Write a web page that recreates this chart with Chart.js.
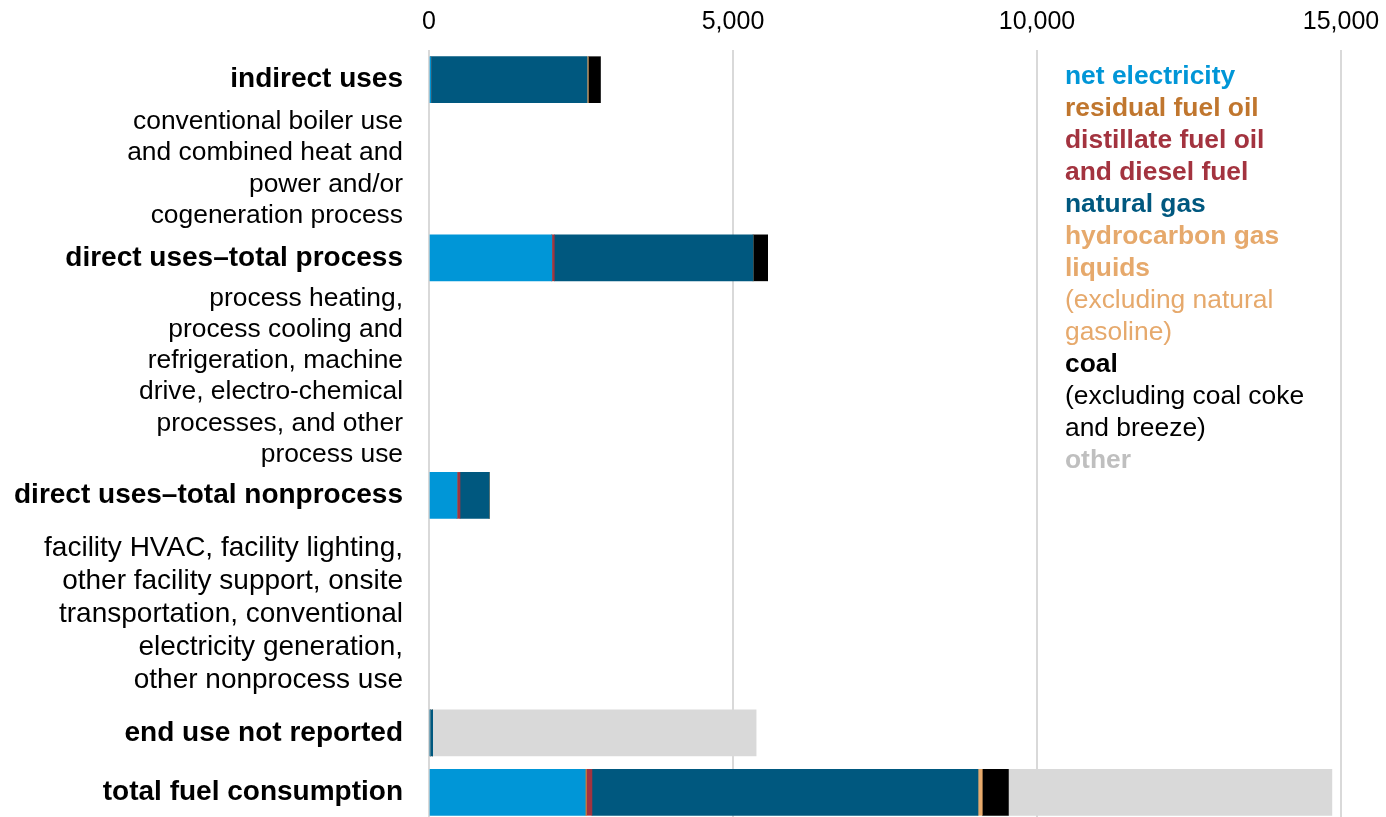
<!DOCTYPE html>
<html>
<head>
<meta charset="utf-8">
<title>Manufacturing fuel consumption by end use</title>
<script src="https://cdn.jsdelivr.net/npm/chart.js@4"></script>
<style>
  html, body { margin: 0; padding: 0; background: #fff; overflow: hidden; }
  #wrap { width: 1386px; height: 822px; }
</style>
</head>
<body>
<div id="wrap"><canvas id="fuelChart"></canvas></div>
<script>
// end-use groups, top to bottom
const groups = [
    'indirect uses',
    'direct uses–total process',
    'direct uses–total nonprocess',
    'end use not reported',
    'total fuel consumption'
];

// smaller text listed under each group
const groupNotes = [
    ['conventional boiler use', 'and combined heat and', 'power and/or', 'cogeneration process'],
    ['process heating,', 'process cooling and', 'refrigeration, machine', 'drive, electro-chemical', 'processes, and other', 'process use'],
    ['facility HVAC, facility lighting,', 'other facility support, onsite', 'transportation, conventional', 'electricity generation,', 'other nonprocess use'],
    [],
    []
];

// trillion Btu, one value per group
const netElectricity = [30, 2020, 460, 20, 2570];
const residualFuelOil = [0, 0, 0, 0, 20];
const distillateFuelOil = [0, 40, 50, 0, 90];
const naturalGas = [2570, 3270, 480, 40, 6350];
const hydrocarbonGasLiquids = [20, 0, 0, 0, 70];
const coal = [200, 240, 0, 0, 430];
const otherFuel = [0, 0, 0, 5320, 5320];

const xTicks = [0, 5000, 10000, 15000];

const FONT = 'Liberation Sans, Arial, sans-serif';
// note text is a bit smaller for the first two groups
const noteFontSize = [26.4, 26.4, 28, 28, 28];

// each group takes one row, its notes take half a row per line (rounded up)
const rowOf = [];
const noteRowOf = [];
let row = 0;
groups.forEach((g, i) => {
    rowOf.push(row);
    const gap = Math.ceil(groupNotes[i].length / 2);
    noteRowOf.push(groupNotes[i].length ? row + (gap + 1) / 2 : null);
    row += 1 + gap;
});
const lastRow = rowOf[rowOf.length - 1];

const tickLabels = new Map();
groups.forEach((g, i) => {
    tickLabels.set(rowOf[i], { text: g, bold: true, size: 28 });
    if (noteRowOf[i] !== null) tickLabels.set(noteRowOf[i], { text: groupNotes[i], bold: false, size: noteFontSize[i] });
});

function toPoints(values) {
    return values.map((v, i) => ({ x: v, y: rowOf[i] }));
}

const series = [
    { label: 'net electricity', values: netElectricity, color: '#0096d7', text: '#0096d7', lines: ['net electricity'], note: [] },
    { label: 'residual fuel oil', values: residualFuelOil, color: '#c97d33', text: '#c0762e', lines: ['residual fuel oil'], note: [] },
    { label: 'distillate fuel oil and diesel fuel', values: distillateFuelOil, color: '#a3333f', text: '#a3333f', lines: ['distillate fuel oil', 'and diesel fuel'], note: [] },
    { label: 'natural gas', values: naturalGas, color: '#00587f', text: '#00587f', lines: ['natural gas'], note: [] },
    { label: 'hydrocarbon gas liquids', values: hydrocarbonGasLiquids, color: '#e8aa6c', text: '#e6a96c', lines: ['hydrocarbon gas', 'liquids'], note: ['(excluding natural', 'gasoline)'] },
    { label: 'coal', values: coal, color: '#000000', text: '#000000', lines: ['coal'], note: ['(excluding coal coke', 'and breeze)'] },
    { label: 'other', values: otherFuel, color: '#d9d9d9', text: '#bfbfbf', lines: ['other'], note: [] }
];

// colored text legend on the right side of the plot
const textLegend = {
    id: 'textLegend',
    afterDraw(chart, args, opts) {
        const ctx = chart.ctx;
        ctx.save();
        ctx.textAlign = 'left';
        ctx.textBaseline = 'middle';
        let y = opts.top;
        series.forEach((s) => {
            ctx.fillStyle = s.text;
            ctx.font = 'bold ' + opts.size + 'px ' + FONT;
            s.lines.forEach((t) => { ctx.fillText(t, opts.left, y); y += opts.lineHeight; });
            ctx.font = opts.size + 'px ' + FONT;
            s.note.forEach((t) => { ctx.fillText(t, opts.left, y); y += opts.lineHeight; });
        });
        ctx.restore();
    }
};

const config = {
    type: 'bar',
    data: {
        datasets: series.map((s) => ({
            label: s.label,
            data: toPoints(s.values),
            backgroundColor: s.color,
            borderWidth: 0,
            barThickness: 46
        }))
    },
    options: {
        indexAxis: 'y',
        responsive: true,
        maintainAspectRatio: false,
        animation: false,
        layout: { padding: { top: 0, right: 45, left: 0, bottom: 0 } },
        plugins: {
            legend: { display: false },
            tooltip: { enabled: false },
            textLegend: { left: 1065, top: 77, lineHeight: 32, size: 26.4 }
        },
        scales: {
            x: {
                position: 'top',
                stacked: true,
                min: xTicks[0],
                max: xTicks[xTicks.length - 1],
                afterBuildTicks: (scale) => { scale.ticks = xTicks.map((v) => ({ value: v })); },
                afterFit: (scale) => {
                    scale.height = 50;
                    scale.paddingLeft = 0;
                    scale.paddingRight = 0;
                },
                ticks: {
                    color: '#000',
                    padding: 13,
                    font: { family: FONT, size: 25, lineHeight: 1.2 },
                    callback: (v) => Number(v).toLocaleString('en-US')
                },
                grid: { color: '#d9d9d9', lineWidth: 2, drawTicks: false, tickLength: 0 },
                border: { display: false }
            },
            y: {
                type: 'linear',
                stacked: true,
                reverse: true,
                offset: false,
                min: -0.5,
                max: lastRow + 0.5,
                afterBuildTicks: (scale) => {
                    scale.ticks = [...tickLabels.keys()].map((v) => ({ value: v }));
                },
                afterFit: (scale) => {
                    scale.width = 429;
                    scale.paddingTop = 0;
                    scale.paddingBottom = 0;
                },
                ticks: {
                    autoSkip: false,
                    color: '#000',
                    padding: 26,
                    callback: (v) => (tickLabels.get(v) || { text: '' }).text,
                    font: (c) => {
                        const info = c.tick ? tickLabels.get(c.tick.value) : null;
                        return {
                            family: FONT,
                            size: info ? info.size : 28,
                            weight: info && info.bold ? 'bold' : 'normal',
                            lineHeight: 1.18
                        };
                    }
                },
                grid: { display: false, drawTicks: false, tickLength: 0 },
                border: { display: false }
            }
        }
    },
    plugins: [textLegend]
};

const chart = new Chart(document.getElementById('fuelChart'), config);
</script>
</body>
</html>
